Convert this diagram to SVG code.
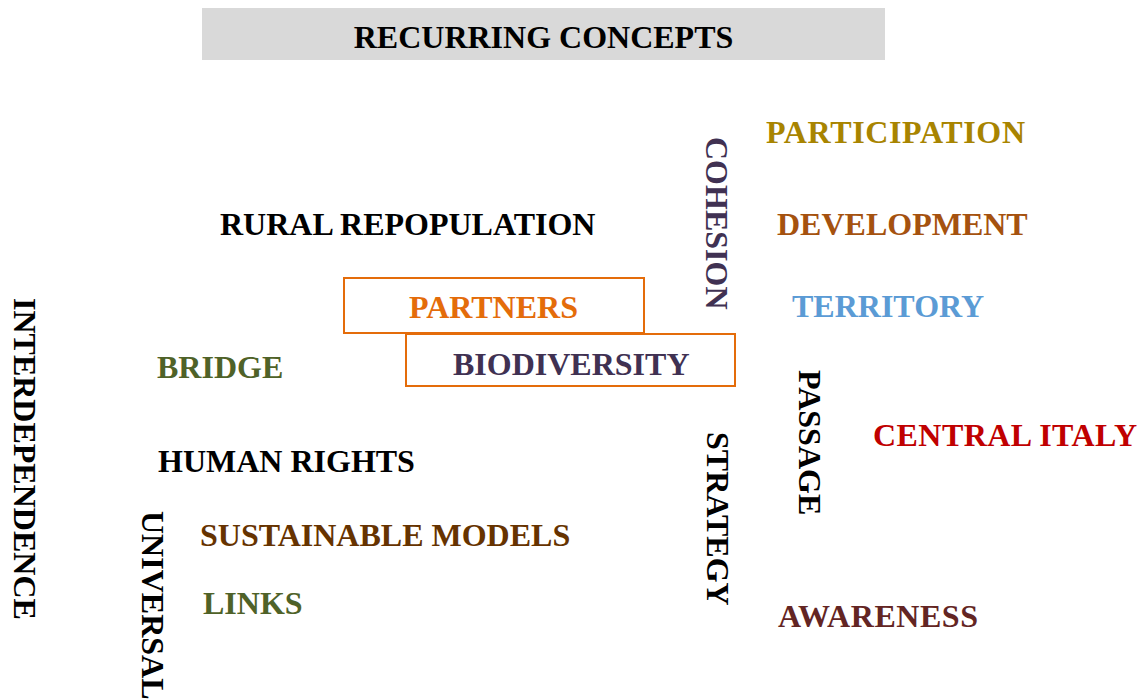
<svg xmlns="http://www.w3.org/2000/svg" width="1146" height="700" viewBox="0 0 1146 700">
<style>
text{font-family:"Liberation Serif","Times New Roman",serif;font-weight:bold;font-size:32px}
.box{fill:#ffffff;stroke:#e46c0a;stroke-width:2}
</style>
<rect width="1146" height="700" fill="#ffffff"/>
<g id="title">
<rect x="202" y="8" width="683" height="52" fill="#d9d9d9"/>
<text x="543.5" y="48" text-anchor="middle" fill="#000000">RECURRING CONCEPTS</text>
</g>
<g id="connectors"></g>
<g id="participation"><text x="766" y="143" fill="#a88400" textLength="259" lengthAdjust="spacing">PARTICIPATION</text></g>
<g id="development"><text x="777" y="235" fill="#a5520f">DEVELOPMENT</text></g>
<g id="territory"><text x="792" y="317" fill="#5b9bd5">TERRITORY</text></g>
<g id="rural-repopulation"><text x="220" y="235" fill="#000000">RURAL REPOPULATION</text></g>
<g id="partners">
<rect class="box" x="344" y="278" width="300" height="55"/>
<text x="409" y="318" fill="#e46c0a">PARTNERS</text>
</g>
<g id="biodiversity">
<rect class="box" x="406" y="334" width="329" height="52"/>
<text x="453" y="375" fill="#403152">BIODIVERSITY</text>
</g>
<g id="bridge"><text x="157" y="378" fill="#4f6228">BRIDGE</text></g>
<g id="human-rights"><text x="158" y="472" fill="#000000">HUMAN RIGHTS</text></g>
<g id="sustainable-models"><text x="200" y="546" fill="#663300">SUSTAINABLE MODELS</text></g>
<g id="links"><text x="203" y="614" fill="#4f6228">LINKS</text></g>
<g id="central-italy"><text x="873" y="446" fill="#c00000" textLength="264" lengthAdjust="spacing">CENTRAL ITALY</text></g>
<g id="awareness"><text x="778" y="627" fill="#632523" textLength="200" lengthAdjust="spacing">AWARENESS</text></g>
<g id="cohesion"><text transform="translate(706,137) rotate(90)" fill="#403152">COHESION</text></g>
<g id="interdependence"><text transform="translate(14,298) rotate(90)" fill="#000000">INTERDEPENDENCE</text></g>
<g id="universal"><text transform="translate(142,511) rotate(90)" fill="#000000">UNIVERSAL</text></g>
<g id="strategy"><text transform="translate(707,432) rotate(90)" fill="#000000">STRATEGY</text></g>
<g id="passage"><text transform="translate(799,370) rotate(90)" fill="#000000">PASSAGE</text></g>
</svg>
